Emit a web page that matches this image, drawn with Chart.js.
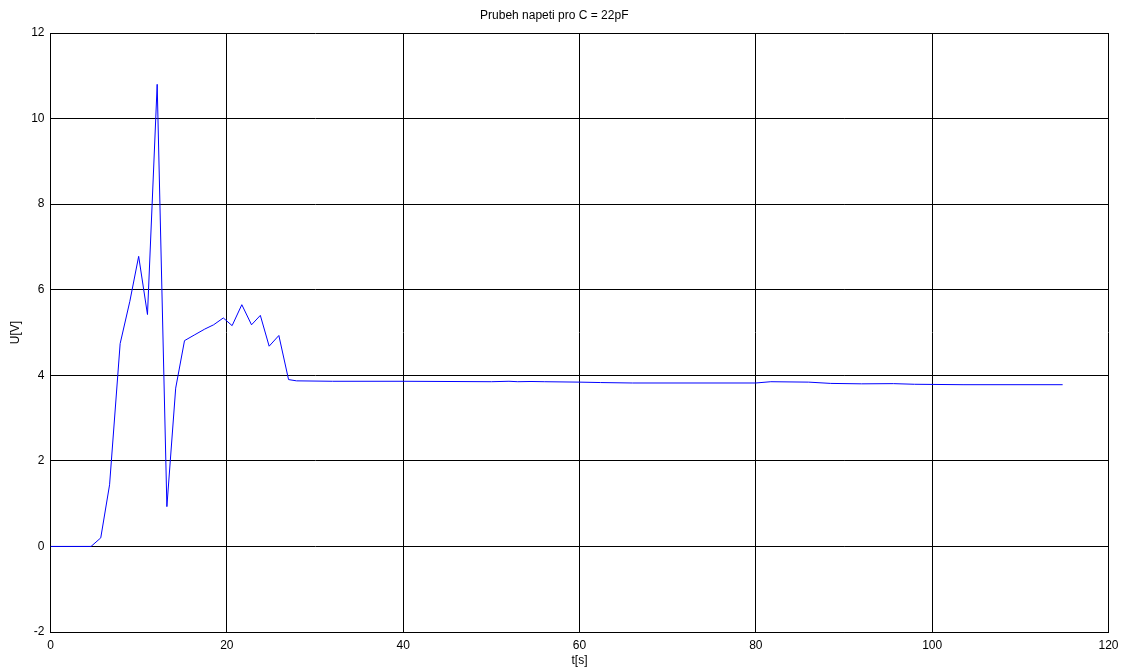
<!DOCTYPE html>
<html>
<head>
<meta charset="utf-8">
<script src="https://cdn.jsdelivr.net/npm/chart.js@4/dist/chart.umd.min.js"></script>
<style>
  html, body { margin: 0; padding: 0; background: #fff; }
  #wrap { width: 1121px; height: 668px; }
</style>
</head>
<body>
<div id="wrap"><canvas id="c" width="1121" height="668"></canvas></div>
<script>
// Measured voltage trace U(t) for C = 22 pF
const timeS = [
  0, 4.6, 5.7, 6.7, 7.9, 9.0, 10.0, 11.0, 12.1, 13.2, 14.2, 15.2, 16.3, 17.5,
  18.5, 19.6, 20.6, 21.7, 22.8, 23.8, 24.8, 25.9, 27.0, 27.9,
  32, 40, 50, 52, 53, 54.5, 56, 60, 62.4, 66, 80, 81.7, 86, 88.5, 92, 95.6,
  98, 103.5, 114.8
];
const voltageV = [
  0, 0, 0.2, 1.44, 4.74, 5.73, 6.78, 5.42, 10.8, 0.93, 3.70, 4.81, 4.94, 5.08,
  5.18, 5.34, 5.16, 5.65, 5.18, 5.40, 4.68, 4.93, 3.90, 3.87,
  3.86, 3.86, 3.85, 3.86, 3.85, 3.855, 3.85, 3.84, 3.83, 3.82, 3.82, 3.85, 3.84,
  3.81, 3.80, 3.805, 3.79, 3.78, 3.78
];

const xTicks = [0, 20, 40, 60, 80, 100, 120];
const yTicks = [-2, 0, 2, 4, 6, 8, 10, 12];

const FONT = "'Liberation Sans', Arial, Helvetica, sans-serif";

const points = timeS.map((t, i) => ({ x: t, y: voltageV[i] }));

new Chart(document.getElementById('c'), {
  type: 'line',
  data: {
    datasets: [{
      data: points,
      borderColor: '#0000ff',
      borderWidth: 1,
      pointRadius: 0,
      tension: 0,
      fill: false
    }]
  },
  options: {
    responsive: false,
    animation: false,
    devicePixelRatio: 1,
    layout: { padding: { left: 0, right: 12.5, top: 0, bottom: 0 } },
    plugins: {
      legend: { display: false },
      tooltip: { enabled: false },
      title: {
        display: true,
        text: 'Prubeh napeti pro C = 22pF',
        color: '#000',
        font: { family: FONT, size: 12, weight: 'normal' },
        padding: { top: 8, bottom: 10.6 }
      }
    },
    scales: {
      x: {
        type: 'linear',
        min: 0,
        max: 120,
        afterBuildTicks: s => { s.ticks = xTicks.map(v => ({ value: v })); },
        afterFit: s => { s.height = 36; s.paddingRight = 0; s.paddingLeft = 0; },
        grid: { color: '#000', lineWidth: 1, drawTicks: false },
        border: { color: '#000', width: 1 },
        ticks: {
          color: '#000',
          padding: 6,
          maxRotation: 0,
          font: { family: FONT, size: 12 }
        },
        title: {
          display: true,
          text: 't[s]',
          color: '#000',
          font: { family: FONT, size: 12 },
          padding: { top: 0, bottom: 0 }
        }
      },
      y: {
        type: 'linear',
        min: -2,
        max: 12,
        afterBuildTicks: s => { s.ticks = yTicks.map(v => ({ value: v })); },
        afterFit: s => { s.width = 50.5; },
        grid: { color: '#000', lineWidth: 1, drawTicks: false },
        border: { color: '#000', width: 1 },
        ticks: {
          color: '#000',
          padding: 6,
          font: { family: FONT, size: 12 }
        },
        title: {
          display: true,
          text: 'U[V]',
          color: '#000',
          font: { family: FONT, size: 12 },
          padding: { top: 8, bottom: 0 }
        }
      }
    }
  }
});
</script>
</body>
</html>
